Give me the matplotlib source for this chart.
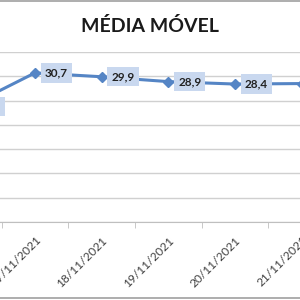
import matplotlib
matplotlib.use("Agg")
import matplotlib.pyplot as plt
from matplotlib.lines import Line2D

dates = ["16/11/2021", "17/11/2021", "18/11/2021", "19/11/2021", "20/11/2021", "21/11/2021"]
values = [23.8, 30.7, 29.9, 28.9, 28.4, 28.5]
labels = ["23,8", "30,7", "29,9", "28,9", "28,4", "28,5"]
yticks = [0, 5, 10, 15, 20, 25, 30, 35]

plt.rcParams['font.family'] = ['Lato', 'DejaVu Sans']

fig = plt.figure(figsize=(3, 3), dpi=100)
ax = fig.add_axes([0, 0.26, 320 / 300, 0.5667])

x = list(range(len(dates)))
line_color = "#5585c5"
ax.plot(x, values, color=line_color, lw=2.2, marker="D", ms=5, mfc=line_color, mec=line_color, zorder=3)

for xi, v, lab in zip(x, values, labels):
    ax.annotate(lab, (xi, v), xytext=(7, 0), textcoords="offset points",
                ha="left", va="center", fontsize=8.5, fontweight="bold", color="#222222",
                bbox=dict(boxstyle="square,pad=0.35", fc="#c9d8ef", ec="none"), zorder=4,
                annotation_clip=False)

ax.set_yticks(yticks)
ax.yaxis.grid(True, color="#d0d0d0", lw=1)
ax.tick_params(axis="y", length=0, labelleft=False)
ax.set_axisbelow(True)

ax.set_xticks(x)
ax.set_xticklabels(dates, rotation=45, ha="right", rotation_mode="anchor", fontsize=8.6, color="#404040")
ax.set_xticks([i + 0.5 for i in range(-1, len(dates))], minor=True)
ax.tick_params(axis="x", which="major", length=0, pad=9)
ax.tick_params(axis="x", which="minor", length=4, direction="out", color="#bfbfbf")

ax.set_xlim(0.475, 0.475 + 320 / 66.67)
ax.set_ylim(yticks[0], yticks[-1])

for s in ["left", "right", "top"]:
    ax.spines[s].set_visible(False)
ax.spines["bottom"].set_color("#bfbfbf")

fig.text(0.5, 0.915, "MÉDIA MÓVEL", ha="center", va="center", fontsize=14, fontweight="bold", color="#1a1a1a")

fig.add_artist(Line2D([0, 1], [0.997, 0.997], color="#a0a0a0", lw=1.2, transform=fig.transFigure))
fig.add_artist(Line2D([0, 1], [0.007, 0.007], color="#a0a0a0", lw=1.2, transform=fig.transFigure))

fig.savefig("out.png", dpi=100)
